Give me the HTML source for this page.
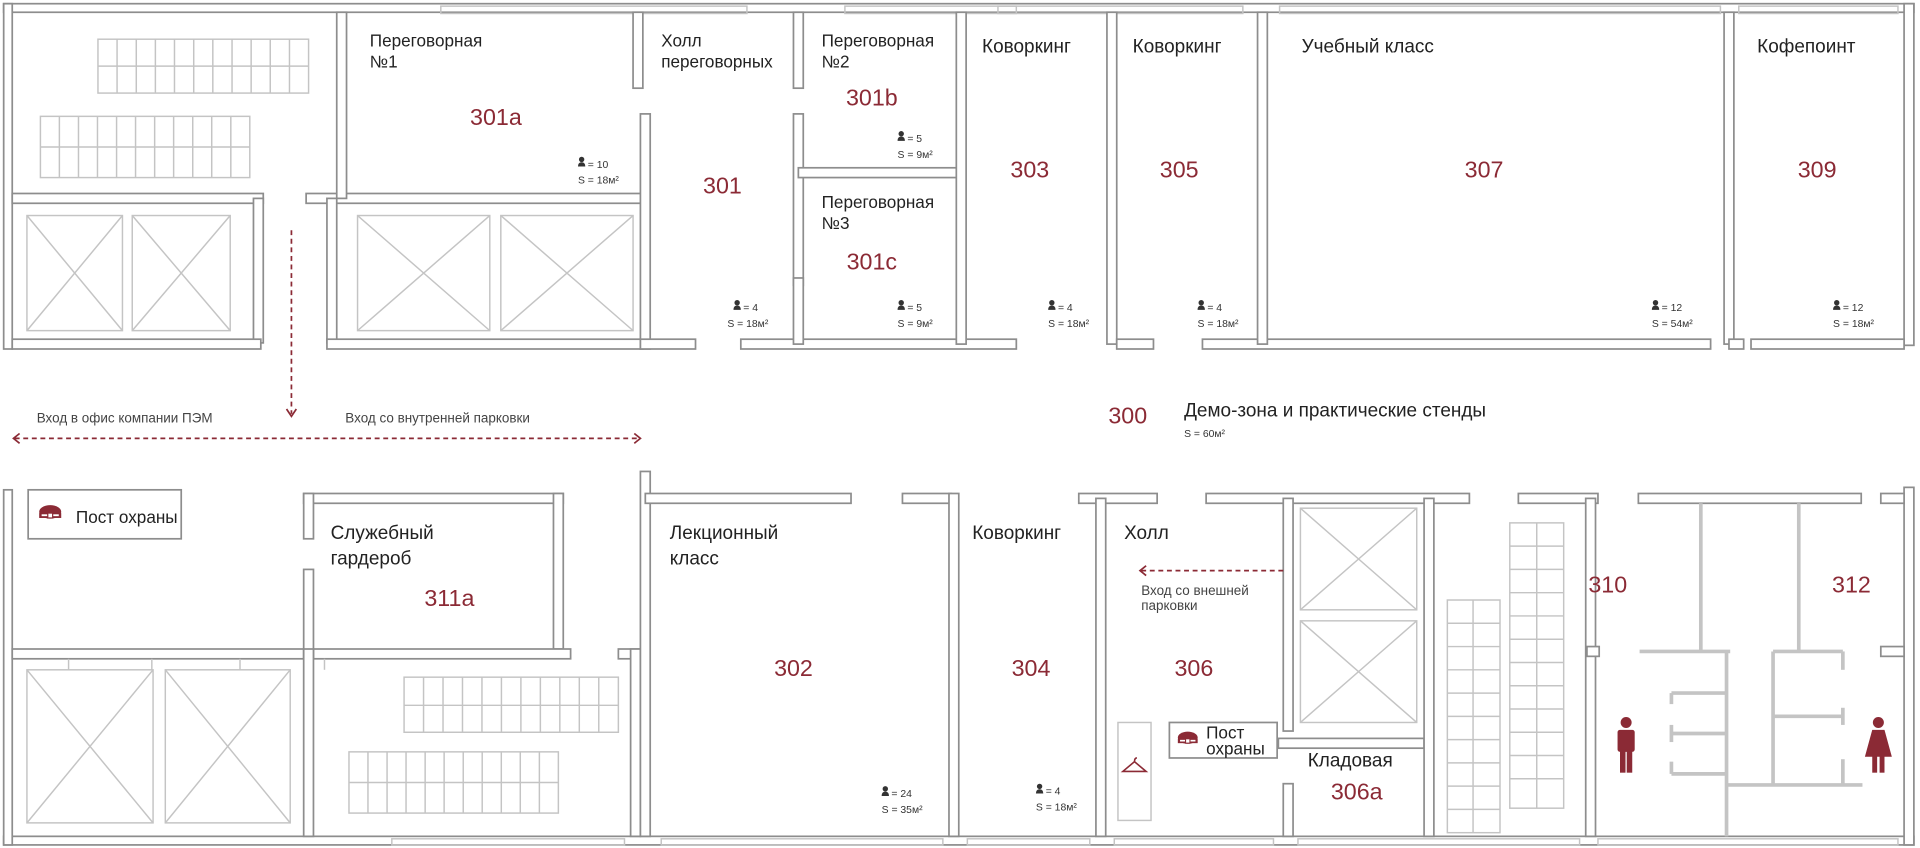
<!DOCTYPE html>
<html><head><meta charset="utf-8"><style>
html,body{margin:0;padding:0;background:#fff;}
svg{display:block;}
.w{fill:#fff;stroke:#8d8d8d;stroke-width:1.4;}
.f{fill:none;stroke:#c4c4c4;stroke-width:1.2;}
.n{font-family:"Liberation Sans",sans-serif;fill:#222;font-size:14px;}
.nb{font-family:"Liberation Sans",sans-serif;fill:#222;font-size:15.5px;}
.r{font-family:"Liberation Sans",sans-serif;fill:#8b2a35;font-size:19px;}
.s{font-family:"Liberation Sans",sans-serif;fill:#333;font-size:8.5px;}
.t{font-family:"Liberation Sans",sans-serif;fill:#444;font-size:11px;}
.d{fill:none;stroke:#8b2a35;stroke-width:1.4;stroke-dasharray:4 3;}
.a{fill:none;stroke:#8b2a35;stroke-width:1.4;}
</style></head><body>
<svg width="1920" height="848" viewBox="0 0 1568 692.5" xmlns="http://www.w3.org/2000/svg">
<defs>
<g id="p"><circle cx="3" cy="2.2" r="2.2" fill="#333"/><path d="M0 8 Q0 4.5 3 4.5 Q6 4.5 6 8 Z" fill="#333"/></g>
<g id="cap"><ellipse cx="10" cy="6" rx="9" ry="5.5" fill="#8b2a35"/><rect x="1" y="7" width="18" height="4" fill="#8b2a35"/><rect x="3" y="8" width="14" height="1.5" fill="#fff"/><rect x="8" y="7" width="4" height="4" fill="#fff" stroke="#8b2a35"/></g>
</defs>
<!-- outer walls -->
<rect class="w" x="3" y="3" width="1560" height="7"/>
<rect class="w" x="3" y="683" width="1560" height="7"/>
<rect class="w" x="3" y="3" width="7" height="282"/>
<rect class="w" x="3" y="400" width="7" height="290"/>
<rect class="w" x="1555" y="3" width="8" height="279"/>
<rect class="w" x="1555" y="398" width="8" height="292"/>
<!-- windows top -->
<g class="f"><rect x="360" y="5" width="250" height="6"/><rect x="690" y="5" width="140" height="6"/><rect x="815" y="5" width="200" height="6"/><rect x="1045" y="5" width="360" height="6"/><rect x="1420" y="5" width="130" height="6"/>
<rect x="320" y="685" width="190" height="5"/><rect x="540" y="685" width="230" height="5"/><rect x="790" y="685" width="100" height="5"/><rect x="910" y="685" width="130" height="5"/><rect x="1060" y="685" width="230" height="5"/><rect x="1305" y="685" width="245" height="5"/></g>

<!-- TOP ROW walls -->
<rect class="w" x="10" y="158" width="205" height="8"/>
<rect class="w" x="250" y="158" width="275" height="8"/>
<rect class="w" x="275" y="10" width="8" height="152"/>
<rect class="w" x="207" y="162" width="8" height="118"/>
<rect class="w" x="267" y="162" width="8" height="118"/>
<rect class="w" x="10" y="277" width="203" height="8"/>
<rect class="w" x="267" y="277" width="258" height="8"/>
<rect class="w" x="517" y="10" width="8" height="62"/>
<rect class="w" x="523" y="93" width="8" height="192"/>
<rect class="w" x="523" y="277" width="45" height="8"/>
<rect class="w" x="605" y="277" width="225" height="8"/>
<rect class="w" x="648" y="10" width="8" height="62"/>
<rect class="w" x="648" y="93" width="8" height="140"/>
<rect class="w" x="648" y="227" width="8" height="54"/>
<rect class="w" x="652" y="137" width="130" height="8"/>
<rect class="w" x="781" y="10" width="8" height="271"/>
<rect class="w" x="904" y="10" width="8" height="271"/>
<rect class="w" x="912" y="277" width="30" height="8"/>
<rect class="w" x="982" y="277" width="415" height="8"/>
<rect class="w" x="1027" y="10" width="8" height="271"/>
<rect class="w" x="1408" y="10" width="8" height="271"/>
<rect class="w" x="1430" y="277" width="125" height="8"/>
<rect class="w" x="1412" y="277" width="12" height="8"/>

<!-- top-left stairs -->
<g class="f">
<rect x="80" y="32" width="172" height="44"/><line x1="80" y1="54" x2="252" y2="54"/>
<rect x="33" y="95" width="171" height="50"/><line x1="33" y1="120" x2="204" y2="120"/>
</g>
<g class="f" id="g1"></g>
<!-- elevators top -->
<g class="f">
<rect x="22" y="176" width="78" height="94"/><line x1="22" y1="176" x2="100" y2="270"/><line x1="100" y1="176" x2="22" y2="270"/>
<rect x="108" y="176" width="80" height="94"/><line x1="108" y1="176" x2="188" y2="270"/><line x1="188" y1="176" x2="108" y2="270"/>
<rect x="292" y="176" width="108" height="94"/><line x1="292" y1="176" x2="400" y2="270"/><line x1="400" y1="176" x2="292" y2="270"/>
<rect x="409" y="176" width="108" height="94"/><line x1="409" y1="176" x2="517" y2="270"/><line x1="517" y1="176" x2="409" y2="270"/>
</g>

<!-- BOTTOM ROW walls -->
<rect class="w" x="248" y="403" width="212" height="8"/>
<rect class="w" x="248" y="403" width="8" height="37"/>
<rect class="w" x="248" y="465" width="8" height="73"/>
<rect class="w" x="452" y="403" width="8" height="127"/>
<rect class="w" x="10" y="530" width="238" height="8"/>
<rect class="w" x="256" y="530" width="210" height="8"/>
<rect class="w" x="505" y="530" width="18" height="8"/>
<rect class="w" x="248" y="530" width="8" height="153"/>
<rect class="w" x="515" y="530" width="8" height="153"/>
<rect class="w" x="523" y="385" width="8" height="298"/>
<rect class="w" x="527" y="403" width="168" height="8"/>
<rect class="w" x="737" y="403" width="40" height="8"/>
<rect class="w" x="775" y="403" width="8" height="280"/>
<rect class="w" x="881" y="403" width="64" height="8"/>
<rect class="w" x="895" y="407" width="8" height="276"/>
<rect class="w" x="985" y="403" width="215" height="8"/>
<rect class="w" x="1048" y="407" width="8" height="190"/>
<rect class="w" x="1048" y="640" width="8" height="43"/>
<rect class="w" x="1044" y="603" width="119" height="8"/>
<rect class="w" x="1163" y="407" width="8" height="276"/>
<rect class="w" x="1240" y="403" width="65" height="8"/>
<rect class="w" x="1295" y="407" width="8" height="276"/>
<rect class="w" x="1338" y="403" width="182" height="8"/>
<rect class="w" x="1536" y="403" width="19" height="8"/>
<rect class="w" x="1296" y="528" width="10" height="8"/>
<rect class="w" x="1536" y="528" width="19" height="8"/>

<!-- bottom elevators & stairs -->
<g class="f">
<rect x="22" y="547" width="103" height="125"/><line x1="22" y1="547" x2="125" y2="672"/><line x1="125" y1="547" x2="22" y2="672"/>
<rect x="135" y="547" width="102" height="125"/><line x1="135" y1="547" x2="237" y2="672"/><line x1="237" y1="547" x2="135" y2="672"/>
<line x1="56" y1="538" x2="56" y2="547"/><line x1="124" y1="538" x2="124" y2="547"/><line x1="196" y1="538" x2="196" y2="547"/><line x1="265" y1="538" x2="265" y2="547"/>
<rect x="330" y="553" width="175" height="45"/><line x1="330" y1="576" x2="505" y2="576"/>
<rect x="285" y="614" width="171" height="50"/><line x1="285" y1="639" x2="456" y2="639"/>
<rect x="1062" y="415" width="95" height="83"/><line x1="1062" y1="415" x2="1157" y2="498"/><line x1="1157" y1="415" x2="1062" y2="498"/>
<rect x="1062" y="507" width="95" height="83"/><line x1="1062" y1="507" x2="1157" y2="590"/><line x1="1157" y1="507" x2="1062" y2="590"/>
<rect x="1182" y="490" width="43" height="190"/><line x1="1203" y1="490" x2="1203" y2="680"/>
<rect x="1233" y="427" width="44" height="233"/><line x1="1255" y1="427" x2="1255" y2="660"/>
<rect x="913" y="590" width="27" height="80"/>
</g>
<g class="f" id="cols"></g>
<!-- restroom partitions -->
<g fill="none" stroke="#c4c4c4" stroke-width="3">
<line x1="1389" y1="411" x2="1389" y2="532"/><line x1="1469" y1="411" x2="1469" y2="532"/>
<line x1="1339" y1="532" x2="1413" y2="532"/><line x1="1410" y1="532" x2="1410" y2="683"/>
<line x1="1448" y1="532" x2="1448" y2="641"/><line x1="1448" y1="532" x2="1505" y2="532"/>
<line x1="1410" y1="641" x2="1521" y2="641"/>
<line x1="1365" y1="566" x2="1410" y2="566"/><line x1="1365" y1="566" x2="1365" y2="575"/>
<line x1="1365" y1="599" x2="1410" y2="599"/><line x1="1365" y1="592" x2="1365" y2="606"/>
<line x1="1365" y1="632" x2="1410" y2="632"/><line x1="1365" y1="622" x2="1365" y2="632"/>
<line x1="1448" y1="585" x2="1505" y2="585"/><line x1="1505" y1="578" x2="1505" y2="592"/>
<line x1="1505" y1="532" x2="1505" y2="547"/><line x1="1505" y1="620" x2="1505" y2="641"/>
</g>
<!-- people -->
<g fill="#8b2a35">
<circle cx="1328" cy="590" r="4.5"/><rect x="1321" y="596" width="14" height="18" rx="2"/><rect x="1323" y="612" width="4.5" height="19"/><rect x="1328.5" y="612" width="4.5" height="19"/>
<circle cx="1534" cy="590" r="4.5"/><path d="M1529 596 H1539 L1545 618 H1523 Z"/><rect x="1529" y="616" width="4" height="15"/><rect x="1535" y="616" width="4" height="15"/>
</g>
<!-- wardrobe hanger -->
<path d="M926.5 622 q0-3 2-3 M926.5 622 L917 630 H936 Z" fill="none" stroke="#8b2a35" stroke-width="1.3"/>
<!-- guard boxes -->
<rect x="23" y="400" width="125" height="40" fill="#fff" stroke="#8d8d8d" stroke-width="1.4"/>
<use href="#cap" x="31" y="412"/>
<text class="n" x="62" y="427" font-size="13">Пост охраны</text>
<rect x="955" y="590" width="88" height="29" fill="#fff" stroke="#8d8d8d" stroke-width="1.4"/>
<use href="#cap" x="961" y="597" transform="translate(961 597) scale(0.9) translate(-961 -597)"/>
<text class="n" x="985" y="603" font-size="12">Пост</text>
<text class="n" x="985" y="616" font-size="12">охраны</text>

<!-- arrows -->
<line class="d" x1="238" y1="188" x2="238" y2="338"/>
<polyline class="a" points="234,334 238,340 242,334"/>
<line class="d" x1="12" y1="358" x2="522" y2="358"/>
<polyline class="a" points="16,354 11,358 16,362"/>
<polyline class="a" points="518,354 523,358 518,362"/>
<line class="d" x1="932" y1="466" x2="1048" y2="466"/>
<polyline class="a" points="936,462 931,466 936,470"/>
<text class="t" x="30" y="345">Вход в офис компании ПЭМ</text>
<text class="t" x="282" y="345">Вход со внутренней парковки</text>
<text class="t" x="932" y="486">Вход со внешней</text>
<text class="t" x="932" y="498">парковки</text>

<!-- labels top -->
<text class="n" x="302" y="38" font-size="13">Переговорная</text>
<text class="n" x="302" y="55" font-size="13">№1</text>
<text class="r" x="405" y="102" text-anchor="middle">301a</text>
<use href="#p" x="472" y="128"/><text class="s" x="480" y="137">= 10</text>
<text class="s" x="472" y="150">S = 18м²</text>
<text class="n" x="540" y="38" font-size="13">Холл</text>
<text class="n" x="540" y="55" font-size="13">переговорных</text>
<text class="r" x="590" y="158" text-anchor="middle">301</text>
<use href="#p" x="599" y="245"/><text class="s" x="607" y="254">= 4</text>
<text class="s" x="594" y="267">S = 18м²</text>
<text class="n" x="671" y="38" font-size="13">Переговорная</text>
<text class="n" x="671" y="55" font-size="13">№2</text>
<text class="r" x="712" y="86" text-anchor="middle">301b</text>
<use href="#p" x="733" y="107"/><text class="s" x="741" y="116">= 5</text>
<text class="s" x="733" y="129">S = 9м²</text>
<text class="n" x="671" y="170" font-size="13">Переговорная</text>
<text class="n" x="671" y="187" font-size="13">№3</text>
<text class="r" x="712" y="220" text-anchor="middle">301c</text>
<use href="#p" x="733" y="245"/><text class="s" x="741" y="254">= 5</text>
<text class="s" x="733" y="267">S = 9м²</text>
<text class="nb" x="802" y="43">Коворкинг</text>
<text class="r" x="841" y="145" text-anchor="middle">303</text>
<use href="#p" x="856" y="245"/><text class="s" x="864" y="254">= 4</text>
<text class="s" x="856" y="267">S = 18м²</text>
<text class="nb" x="925" y="43">Коворкинг</text>
<text class="r" x="963" y="145" text-anchor="middle">305</text>
<use href="#p" x="978" y="245"/><text class="s" x="986" y="254">= 4</text>
<text class="s" x="978" y="267">S = 18м²</text>
<text class="nb" x="1063" y="43">Учебный класс</text>
<text class="r" x="1212" y="145" text-anchor="middle">307</text>
<use href="#p" x="1349" y="245"/><text class="s" x="1357" y="254">= 12</text>
<text class="s" x="1349" y="267">S = 54м²</text>
<text class="nb" x="1435" y="43">Кофепоинт</text>
<text class="r" x="1484" y="145" text-anchor="middle">309</text>
<use href="#p" x="1497" y="245"/><text class="s" x="1505" y="254">= 12</text>
<text class="s" x="1497" y="267">S = 18м²</text>
<!-- middle -->
<text class="r" x="921" y="346" text-anchor="middle" font-size="20">300</text>
<text class="nb" x="967" y="340" font-size="16">Демо-зона и практические стенды</text>
<text class="s" x="967" y="357">S = 60м²</text>
<!-- bottom -->
<text class="nb" x="270" y="440" font-size="16">Служебный</text>
<text class="nb" x="270" y="461" font-size="16">гардероб</text>
<text class="r" x="367" y="495" text-anchor="middle">311a</text>
<text class="nb" x="547" y="440" font-size="16">Лекционный</text>
<text class="nb" x="547" y="461" font-size="16">класс</text>
<text class="r" x="648" y="552" text-anchor="middle">302</text>
<use href="#p" x="720" y="642"/><text class="s" x="728" y="651">= 24</text>
<text class="s" x="720" y="664">S = 35м²</text>
<text class="nb" x="794" y="440">Коворкинг</text>
<text class="r" x="842" y="552" text-anchor="middle">304</text>
<use href="#p" x="846" y="640"/><text class="s" x="854" y="649">= 4</text>
<text class="s" x="846" y="662">S = 18м²</text>
<text class="nb" x="918" y="440">Холл</text>
<text class="r" x="975" y="552" text-anchor="middle">306</text>
<text class="nb" x="1068" y="626">Кладовая</text>
<text class="r" x="1108" y="653" text-anchor="middle">306a</text>
<text class="r" x="1313" y="484" text-anchor="middle">310</text>
<text class="r" x="1512" y="484" text-anchor="middle">312</text>

<!-- stair column lines -->
<g stroke="#c4c4c4" stroke-width="1.2">
<line x1="95.6" y1="32" x2="95.6" y2="76"/><line x1="111.3" y1="32" x2="111.3" y2="76"/><line x1="126.9" y1="32" x2="126.9" y2="76"/><line x1="142.5" y1="32" x2="142.5" y2="76"/><line x1="158.2" y1="32" x2="158.2" y2="76"/><line x1="173.8" y1="32" x2="173.8" y2="76"/><line x1="189.5" y1="32" x2="189.5" y2="76"/><line x1="205.1" y1="32" x2="205.1" y2="76"/><line x1="220.7" y1="32" x2="220.7" y2="76"/><line x1="236.4" y1="32" x2="236.4" y2="76"/>
<line x1="48.5" y1="95" x2="48.5" y2="145"/><line x1="64.1" y1="95" x2="64.1" y2="145"/><line x1="79.6" y1="95" x2="79.6" y2="145"/><line x1="95.2" y1="95" x2="95.2" y2="145"/><line x1="110.7" y1="95" x2="110.7" y2="145"/><line x1="126.3" y1="95" x2="126.3" y2="145"/><line x1="141.8" y1="95" x2="141.8" y2="145"/><line x1="157.4" y1="95" x2="157.4" y2="145"/><line x1="172.9" y1="95" x2="172.9" y2="145"/><line x1="188.5" y1="95" x2="188.5" y2="145"/>
<line x1="345.9" y1="553" x2="345.9" y2="598"/><line x1="361.8" y1="553" x2="361.8" y2="598"/><line x1="377.7" y1="553" x2="377.7" y2="598"/><line x1="393.6" y1="553" x2="393.6" y2="598"/><line x1="409.5" y1="553" x2="409.5" y2="598"/><line x1="425.4" y1="553" x2="425.4" y2="598"/><line x1="441.3" y1="553" x2="441.3" y2="598"/><line x1="457.2" y1="553" x2="457.2" y2="598"/><line x1="473.1" y1="553" x2="473.1" y2="598"/><line x1="489" y1="553" x2="489" y2="598"/>
<line x1="300.5" y1="614" x2="300.5" y2="664"/><line x1="316.1" y1="614" x2="316.1" y2="664"/><line x1="331.6" y1="614" x2="331.6" y2="664"/><line x1="347.2" y1="614" x2="347.2" y2="664"/><line x1="362.7" y1="614" x2="362.7" y2="664"/><line x1="378.3" y1="614" x2="378.3" y2="664"/><line x1="393.8" y1="614" x2="393.8" y2="664"/><line x1="409.4" y1="614" x2="409.4" y2="664"/><line x1="424.9" y1="614" x2="424.9" y2="664"/><line x1="440.5" y1="614" x2="440.5" y2="664"/>
<line x1="1182" y1="509" x2="1225" y2="509"/><line x1="1182" y1="528" x2="1225" y2="528"/><line x1="1182" y1="547" x2="1225" y2="547"/><line x1="1182" y1="566" x2="1225" y2="566"/><line x1="1182" y1="585" x2="1225" y2="585"/><line x1="1182" y1="604" x2="1225" y2="604"/><line x1="1182" y1="623" x2="1225" y2="623"/><line x1="1182" y1="642" x2="1225" y2="642"/><line x1="1182" y1="661" x2="1225" y2="661"/>
<line x1="1233" y1="446" x2="1277" y2="446"/><line x1="1233" y1="465" x2="1277" y2="465"/><line x1="1233" y1="484" x2="1277" y2="484"/><line x1="1233" y1="503" x2="1277" y2="503"/><line x1="1233" y1="522" x2="1277" y2="522"/><line x1="1233" y1="541" x2="1277" y2="541"/><line x1="1233" y1="560" x2="1277" y2="560"/><line x1="1233" y1="579" x2="1277" y2="579"/><line x1="1233" y1="598" x2="1277" y2="598"/><line x1="1233" y1="617" x2="1277" y2="617"/><line x1="1233" y1="636" x2="1277" y2="636"/>
</g>
</svg>
</body></html>
